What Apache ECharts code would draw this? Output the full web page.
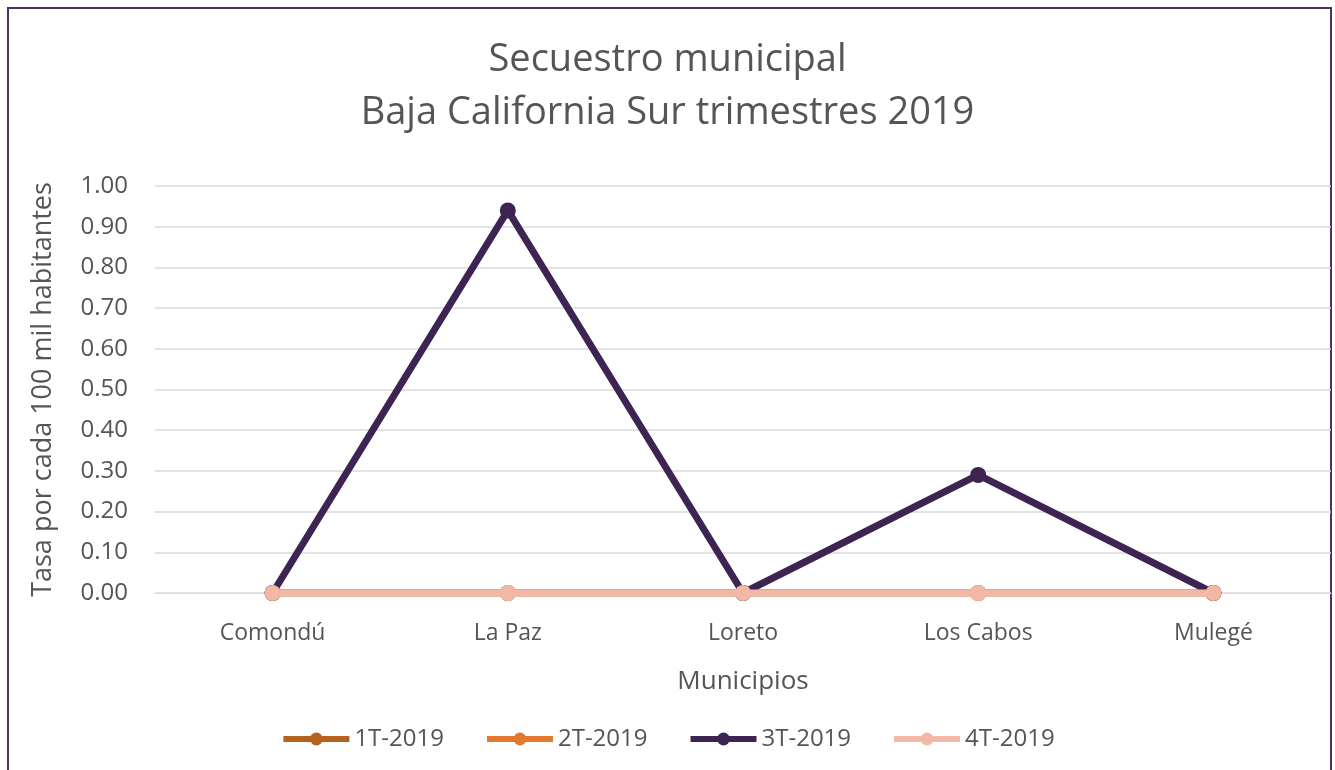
<!DOCTYPE html>
<html><head><meta charset="utf-8">
<script src="https://cdn.jsdelivr.net/npm/echarts@6/dist/echarts.min.js"></script>
<style>html,body{margin:0;padding:0;background:#fff}#c{width:1335px;height:770px}</style>
</head><body><div id="c"></div>
<script>
const categories = ['Comondú','La Paz','Loreto','Los Cabos','Mulegé'];
const s1T = [0,0,0,0,0];
const s2T = [0,0,0,0,0];
const s3T = [0,0.94,0,0.29,0];
const s4T = [0,0,0,0,0];
const seriesNames = ['1T-2019','2T-2019','3T-2019','4T-2019'];
const colors = ['#B6621F','#E2792E','#3E2452','#F2B8A6'];
const yTicks = {min:0,max:1,interval:0.1};

const chart = echarts.init(document.getElementById('c'));
const font = '"Open Sans", "Noto Sans", sans-serif';
const txt = '#555555';
const data = [s1T,s2T,s3T,s4T];
chart.setOption({
  backgroundColor:'#fff',
  textStyle:{fontFamily:font},
  title:{text:'Secuestro municipal\nBaja California Sur trimestres 2019',left:'center',top:29,
    textStyle:{fontFamily:font,fontSize:38,fontWeight:'normal',color:txt,lineHeight:53}},
  graphic:[{type:'rect',shape:{x:8,y:8,width:1323,height:780},style:{fill:'none',stroke:'#4B3166',lineWidth:2}}],
  grid:{left:155,right:4,top:186,bottom:177},
  legend:{bottom:14,left:'center',itemWidth:66,itemHeight:16,itemGap:40,
    lineStyle:{width:6},
    textStyle:{fontFamily:font,fontSize:24,color:txt},
    data:seriesNames},
  xAxis:{type:'category',data:categories,boundaryGap:true,
    name:'Municipios',nameLocation:'middle',nameGap:76,
    nameTextStyle:{fontFamily:font,fontSize:26,color:txt},
    axisLine:{show:true,lineStyle:{color:'#d9d9d9'}},axisTick:{show:false},
    axisLabel:{fontFamily:font,fontSize:23,color:txt,margin:29}},
  yAxis:{type:'value',min:yTicks.min,max:yTicks.max,interval:yTicks.interval,
    name:'Tasa por cada 100 mil habitantes',nameLocation:'middle',nameGap:98,
    nameTextStyle:{fontFamily:font,fontSize:27,color:txt},
    axisLine:{show:false},axisTick:{show:false},
    splitLine:{lineStyle:{color:'#d9d9d9',width:1.5}},
    axisLabel:{fontFamily:font,fontSize:24,color:txt,margin:27,formatter:v=>v.toFixed(2)}},
  series:seriesNames.map((n,i)=>({name:n,type:'line',data:data[i],
    symbol:'circle',symbolSize:16,color:colors[i],
    lineStyle:{width:7,color:colors[i]},itemStyle:{color:colors[i]},z:2+i}))
});
</script></body></html>
